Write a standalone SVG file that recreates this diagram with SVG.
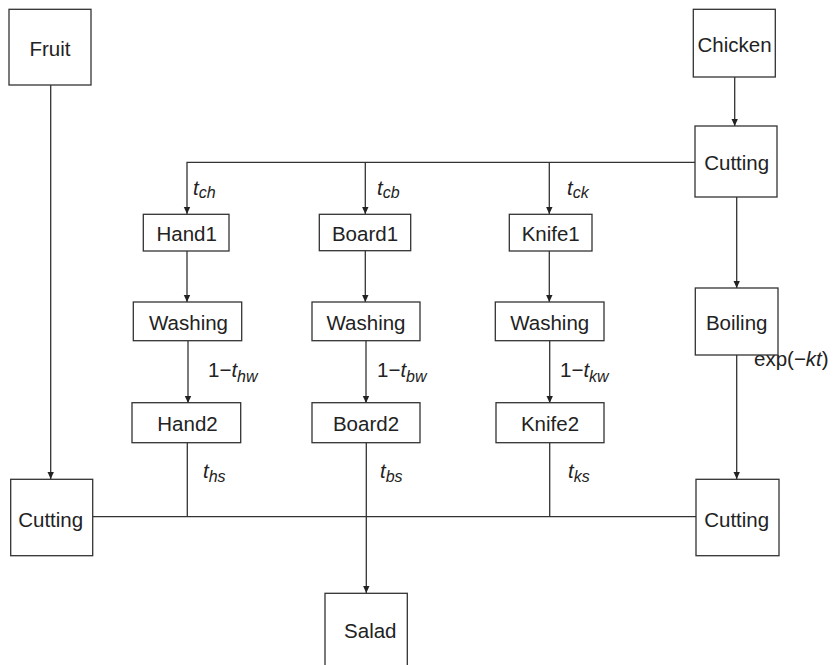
<svg xmlns="http://www.w3.org/2000/svg" width="840" height="665" viewBox="0 0 840 665">
<style>
  .box{fill:#fff;stroke:#333;stroke-width:1.3}
  .lbl{font-family:"Liberation Sans",Arial,sans-serif;font-size:20.5px;fill:#222;text-anchor:middle}
  .ann{font-family:"Liberation Sans",Arial,sans-serif;font-size:20.5px;fill:#222}
  .it{font-style:italic}
  .sub{font-size:16px;font-style:italic}
  .ln{fill:none;stroke:#333;stroke-width:1.3}
</style>
<defs>
  <marker id="ah" markerUnits="userSpaceOnUse" markerWidth="8" markerHeight="8" refX="7" refY="4" orient="auto">
    <path d="M0,0.8 L7,4 L0,7.2 z" fill="#222"/>
  </marker>
</defs>
<rect width="840" height="665" fill="#fff"/>
<g id="connectors">
  <path class="ln" d="M50.7,85 V479" marker-end="url(#ah)"/>
  <path class="ln" d="M734.7,77 V126" marker-end="url(#ah)"/>
  <path class="ln" d="M695,162.3 H187 V214" marker-end="url(#ah)"/>
  <path class="ln" d="M365.3,162.3 V214" marker-end="url(#ah)"/>
  <path class="ln" d="M549.3,162.3 V214" marker-end="url(#ah)"/>
  <path class="ln" d="M736.7,197 V288" marker-end="url(#ah)"/>
  <path class="ln" d="M187,251 V302" marker-end="url(#ah)"/>
  <path class="ln" d="M365.3,251 V302" marker-end="url(#ah)"/>
  <path class="ln" d="M549.3,251 V302" marker-end="url(#ah)"/>
  <path class="ln" d="M188,341 V403" marker-end="url(#ah)"/>
  <path class="ln" d="M366,341 V403" marker-end="url(#ah)"/>
  <path class="ln" d="M549.7,341 V403" marker-end="url(#ah)"/>
  <path class="ln" d="M187.3,443 V516.7"/>
  <path class="ln" d="M549.7,443 V516.7"/>
  <path class="ln" d="M366.3,443 V593" marker-end="url(#ah)"/>
  <path class="ln" d="M736.7,355 V479" marker-end="url(#ah)"/>
  <path class="ln" d="M93,516.7 H696"/>
  <text class="ann" x="193" y="195"><tspan class="it">t</tspan><tspan class="sub" dy="2.5">ch</tspan></text>
  <text class="ann" x="377" y="195"><tspan class="it">t</tspan><tspan class="sub" dy="2.5">cb</tspan></text>
  <text class="ann" x="567" y="195"><tspan class="it">t</tspan><tspan class="sub" dy="2.5">ck</tspan></text>
  <text class="ann" x="208" y="377">1−<tspan class="it">t</tspan><tspan class="sub" dy="5">hw</tspan></text>
  <text class="ann" x="377" y="377">1−<tspan class="it">t</tspan><tspan class="sub" dy="5">bw</tspan></text>
  <text class="ann" x="560" y="377">1−<tspan class="it">t</tspan><tspan class="sub" dy="5">kw</tspan></text>
  <text class="ann" x="203" y="478"><tspan class="it">t</tspan><tspan class="sub" dy="4">hs</tspan></text>
  <text class="ann" x="380" y="478"><tspan class="it">t</tspan><tspan class="sub" dy="4">bs</tspan></text>
  <text class="ann" x="568" y="478"><tspan class="it">t</tspan><tspan class="sub" dy="4">ks</tspan></text>
  <text class="ann" x="754" y="366">exp(−<tspan class="it">kt</tspan>)</text>
</g>
<g id="fruit"><rect class="box" x="9" y="9.3" width="82" height="75.7"/><text class="lbl" x="50" y="56">Fruit</text></g>
<g id="chicken"><rect class="box" x="693.3" y="9.3" width="82" height="67.7"/><text class="lbl" x="734.5" y="51.7">Chicken</text></g>
<g id="cutting-chicken"><rect class="box" x="695" y="126" width="82" height="71"/><text class="lbl" x="736.7" y="170">Cutting</text></g>
<g id="hand1"><rect class="box" x="143.3" y="214.3" width="85.7" height="36.7"/><text class="lbl" x="186.7" y="240.5">Hand1</text></g>
<g id="board1"><rect class="box" x="319.3" y="214.3" width="91.4" height="36.4"/><text class="lbl" x="365" y="240.5">Board1</text></g>
<g id="knife1"><rect class="box" x="509.3" y="214.3" width="82.7" height="36.7"/><text class="lbl" x="550.7" y="240.5">Knife1</text></g>
<g id="washing-hand"><rect class="box" x="133.3" y="302" width="108.4" height="38.7"/><text class="lbl" x="188.5" y="330">Washing</text></g>
<g id="washing-board"><rect class="box" x="312" y="302" width="108" height="38.7"/><text class="lbl" x="366" y="330">Washing</text></g>
<g id="washing-knife"><rect class="box" x="495.3" y="302" width="108.7" height="38.7"/><text class="lbl" x="549.7" y="330">Washing</text></g>
<g id="boiling"><rect class="box" x="695.3" y="288" width="82.7" height="67"/><text class="lbl" x="736.7" y="329.5">Boiling</text></g>
<g id="hand2"><rect class="box" x="132" y="402.7" width="108.7" height="40"/><text class="lbl" x="187.5" y="431">Hand2</text></g>
<g id="board2"><rect class="box" x="312" y="402.7" width="108" height="40"/><text class="lbl" x="366" y="431">Board2</text></g>
<g id="knife2"><rect class="box" x="496" y="402.7" width="108" height="40"/><text class="lbl" x="550" y="431">Knife2</text></g>
<g id="cutting-fruit"><rect class="box" x="10.7" y="479.3" width="82" height="76.4"/><text class="lbl" x="50.7" y="527.3">Cutting</text></g>
<g id="cutting-final"><rect class="box" x="696" y="479.3" width="83" height="76.4"/><text class="lbl" x="736.7" y="527.3">Cutting</text></g>
<g id="salad"><rect class="box" x="325" y="593.3" width="82.3" height="80"/><text class="lbl" x="370.3" y="638">Salad</text></g>
</svg>
